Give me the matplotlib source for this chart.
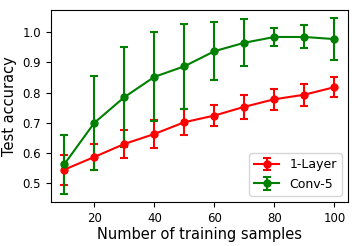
import numpy as np
import matplotlib
matplotlib.use('Agg')
import matplotlib.pyplot as plt

samples = [10, 20, 30, 40, 50, 60, 70, 80, 90, 100]
one_layer = [0.545, 0.587, 0.630, 0.663, 0.702, 0.724, 0.753, 0.778, 0.793, 0.818]
one_layer_err = [0.050, 0.042, 0.045, 0.045, 0.043, 0.035, 0.040, 0.034, 0.037, 0.033]
conv5 = [0.563, 0.700, 0.785, 0.852, 0.887, 0.937, 0.965, 0.984, 0.984, 0.977]
conv5_err = [0.097, 0.156, 0.165, 0.147, 0.140, 0.096, 0.078, 0.029, 0.038, 0.070]

fig = plt.figure(figsize=(3.58, 2.46), dpi=100)
ax = fig.add_axes([0.142, 0.179, 0.830, 0.780])

ax.errorbar(samples, one_layer, yerr=one_layer_err, color='red', marker='o',
            markersize=5, capsize=3, capthick=1.5, linewidth=1.5, label='1-Layer')
ax.errorbar(samples, conv5, yerr=conv5_err, color='green', marker='o',
            markersize=5, capsize=3, capthick=1.5, linewidth=1.5, label='Conv-5')

ax.set_ylim(0.438, 1.073)
ax.set_xticks([20, 40, 60, 80, 100])
ax.set_yticks([0.5, 0.6, 0.7, 0.8, 0.9, 1.0])
ax.tick_params(labelsize=8.5)
ax.set_xlabel('Number of training samples', fontsize=10.5, labelpad=2)
ax.set_ylabel('Test accuracy', fontsize=10.5)
ax.legend(loc='lower right', fontsize=9)

fig.savefig('out.png', dpi=100)
